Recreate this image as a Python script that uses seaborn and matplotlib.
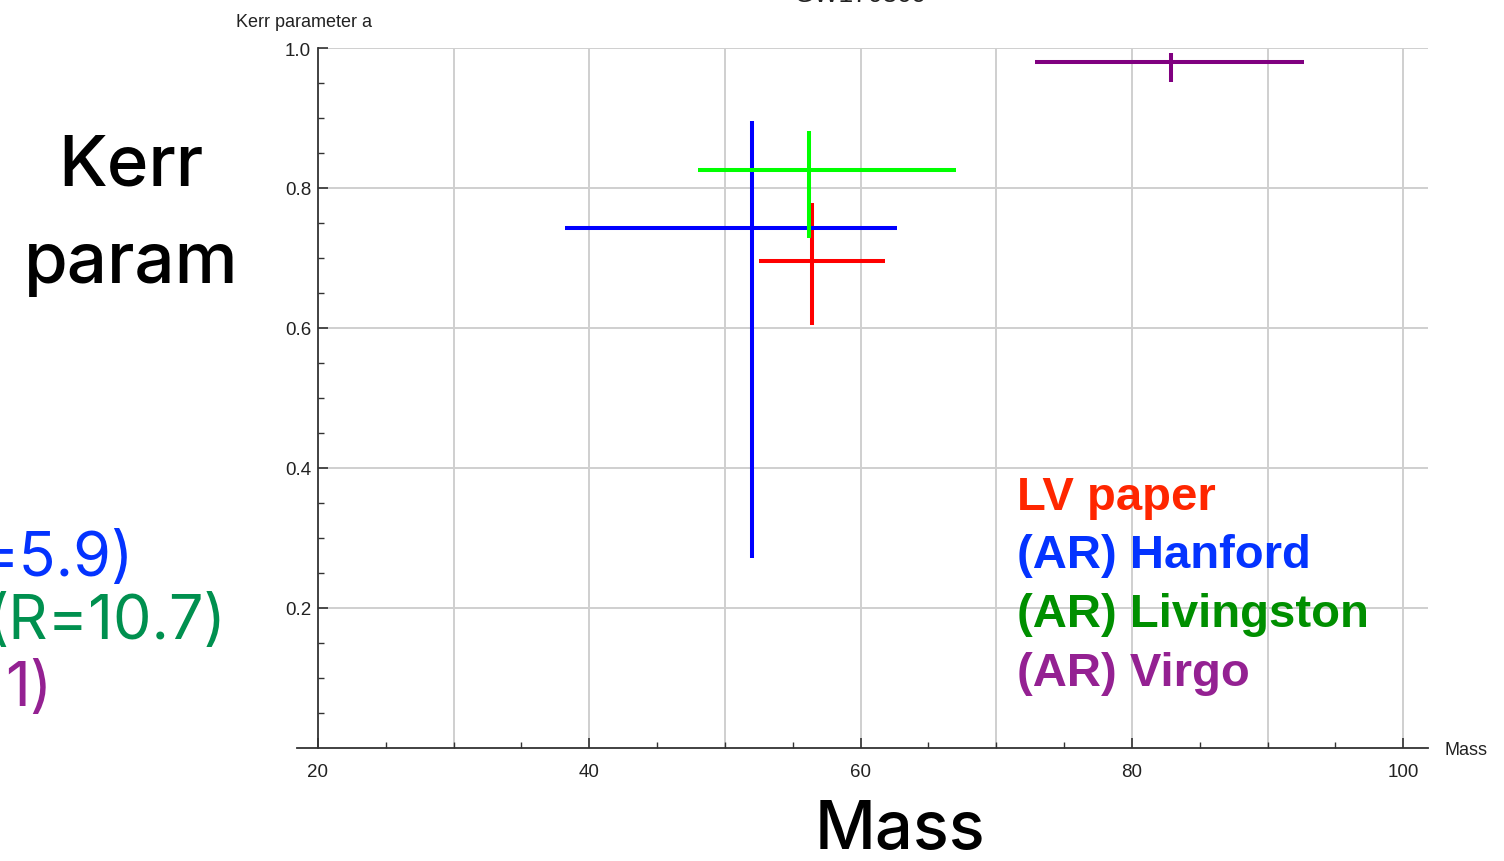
import matplotlib
matplotlib.use("Agg")
import matplotlib.pyplot as plt
import seaborn as sns
import numpy as np

# ---------------- data ----------------
series = ["LV paper", "Hanford", "Livingston", "Virgo"]
mass = [56.4, 52.0, 56.2, 82.9]
mass_lo = [52.5, 38.2, 48.0, 72.85]
mass_hi = [61.8, 62.7, 67.0, 92.7]
spin = [0.696, 0.742, 0.826, 0.980]
spin_lo = [0.604, 0.271, 0.729, 0.952]
spin_hi = [0.778, 0.896, 0.882, 0.993]
line_colors = ["#ff0000", "#0000ff", "#00ff00", "#800080"]

legend_labels = ["LV paper", "(AR) Hanford", "(AR) Livingston", "(AR) Virgo"]
legend_colors = ["#ff2600", "#0433ff", "#008f00", "#942192"]

side_labels = ["=5.9)", "(R=10.7)", "1)"]
side_colors = ["#0433ff", "#00904f", "#942192"]

x_major = [20, 40, 60, 80, 100]
x_minor = list(range(25, 101, 5))
x_grid = [30, 40, 50, 60, 70, 80, 90, 100]
y_major = [0.2, 0.4, 0.6, 0.8, 1.0]
y_minor = [round(0.05 * i, 2) for i in range(1, 21)]

# ---------------- layout ----------------
W, H = 1504, 862
sns.set_theme(style="white")
plt.rcParams["font.family"] = ["Liberation Sans", "DejaVu Sans"]
SLIDE_FONT = ["Inter", "Liberation Sans", "DejaVu Sans"]

fig = plt.figure(figsize=(W / 100, H / 100), dpi=100)

def fx(px):
    return px / W

def fy(py):
    return 1 - py / H

ax_left, ax_right, ax_top, ax_bottom = 297, 1428, 49, 748.5
ax = fig.add_axes([fx(ax_left), fy(ax_bottom), fx(ax_right) - fx(ax_left), fy(ax_top) - fy(ax_bottom)])
ppu = 13.565
xmin = 20 - (318 - ax_left) / ppu
xmax = 20 + (ax_right - 318) / ppu
ax.set_xlim(xmin, xmax)
ax.set_ylim(0, 1.0)
ax.set_facecolor("white")

# gridlines
gcol = "#cfcfcf"
xf20 = (20 - xmin) / (xmax - xmin)
for yv in y_major:
    ax.axhline(yv, xmin=xf20, xmax=1, color=gcol, lw=1.4, zorder=0)
for xv in x_grid:
    ax.axvline(xv, color=gcol, lw=1.4, zorder=0)

# error crosses
for i, name in enumerate(series):
    ax.errorbar([mass[i]], [spin[i]],
                xerr=[[mass[i] - mass_lo[i]], [mass_hi[i] - mass[i]]],
                yerr=[[spin[i] - spin_lo[i]], [spin_hi[i] - spin[i]]],
                fmt="none", ecolor=line_colors[i], elinewidth=2.9, capsize=0, zorder=3)

# axes styling
for s in ["top", "right"]:
    ax.spines[s].set_visible(False)
ax.spines["left"].set_position(("data", 20))
ax.spines["left"].set_bounds(0, 1.0)
ax.spines["bottom"].set_position(("data", 0))
for s in ["left", "bottom"]:
    ax.spines[s].set_color("#333333")
    ax.spines[s].set_linewidth(1.3)

ax.set_xticks(x_major)
ax.set_xticks(x_minor, minor=True)
ax.set_yticks(y_major)
ax.set_yticks(y_minor, minor=True)
ax.set_xticklabels([str(v) for v in x_major])
ax.set_yticklabels([f"{v:.1f}" for v in y_major])
ax.tick_params(axis="both", which="major", direction="in", length=7, width=1.2,
               color="#333333", labelsize=13.5, labelcolor="#222222")
ax.tick_params(axis="both", which="minor", direction="in", length=4, width=1.0, color="#333333")
ax.tick_params(axis="x", which="major", pad=11)
ax.tick_params(axis="y", which="major", pad=5)
ax.tick_params(bottom=True, left=True, which="both")

# axis labels (Mathematica style)
fig.text(fx(236), fy(27), "Kerr parameter a", fontsize=13, color="#222222", va="baseline", ha="left")
fig.text(fx(1445), fy(755), "Mass", fontsize=13, color="#222222", va="baseline", ha="left")

# title (cut off at top, as in the slide)
fig.text(fx(860), fy(2), "GW170809", fontsize=19, color="#222222", va="baseline", ha="center")

# slide text
fig.text(fx(131), fy(186), "Kerr", fontsize=51, color="black", va="baseline", ha="center",
         family=SLIDE_FONT, fontweight="medium")
fig.text(fx(131), fy(283), "param", fontsize=51, color="black", va="baseline", ha="center",
         family=SLIDE_FONT, fontweight="medium")
fig.text(fx(900), fy(849), "Mass", fontsize=48, color="black", va="baseline", ha="center",
         family=SLIDE_FONT, fontweight="medium")

leg_base = [510, 568, 627, 686]
for lab, col, b in zip(legend_labels, legend_colors, leg_base):
    fig.text(fx(1017), fy(b), lab, fontsize=34, fontweight="bold", color=col, va="baseline", ha="left")

side_base = [576, 639, 706]
side_right = [134, 226, 52]
for lab, col, b, r in zip(side_labels, side_colors, side_base, side_right):
    fig.text(fx(r), fy(b), lab, fontsize=44, color=col, va="baseline", ha="right",
             family=SLIDE_FONT)

fig.savefig("out.png", dpi=100, facecolor="white")
